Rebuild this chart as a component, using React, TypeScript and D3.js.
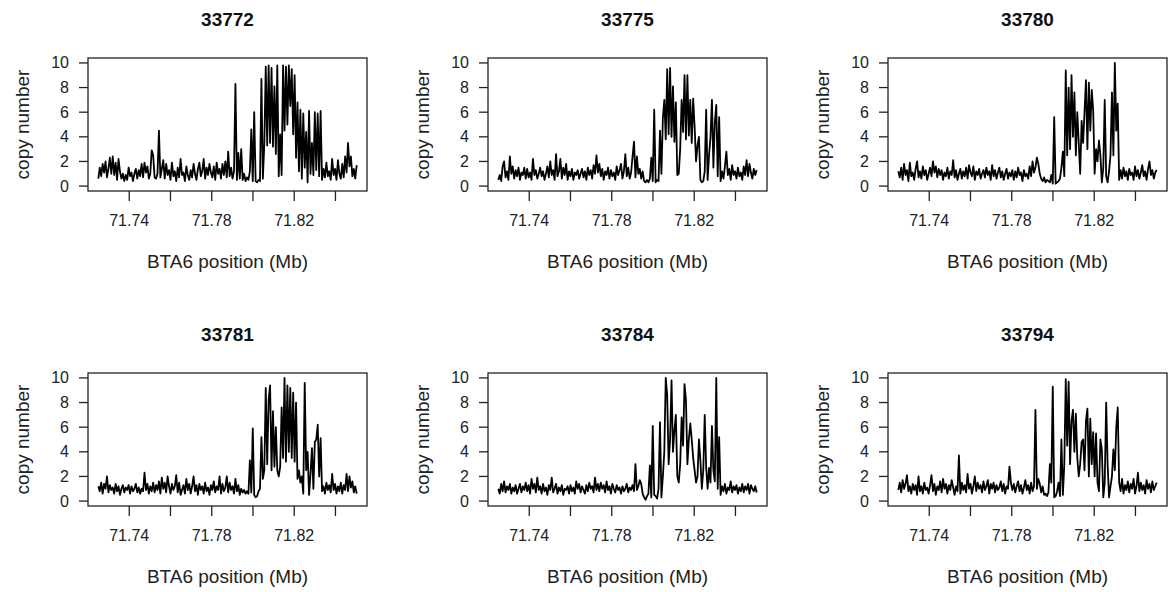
import React, { useEffect, useRef } from 'react';
import * as d3 from 'd3';

// probe positions on BTA6 (Mb), shared by all animals
const positions = [
  71.7250, 71.7257, 71.7264, 71.7271, 71.7278, 71.7285, 71.7292, 71.7299, 71.7306, 71.7313,
  71.7320, 71.7327, 71.7334, 71.7341, 71.7348, 71.7355, 71.7362, 71.7369, 71.7376, 71.7383,
  71.7390, 71.7397, 71.7404, 71.7411, 71.7418, 71.7425, 71.7432, 71.7439, 71.7446, 71.7453,
  71.7460, 71.7467, 71.7474, 71.7481, 71.7488, 71.7495, 71.7502, 71.7509, 71.7516, 71.7523,
  71.7530, 71.7537, 71.7544, 71.7551, 71.7558, 71.7565, 71.7572, 71.7579, 71.7586, 71.7593,
  71.7600, 71.7607, 71.7614, 71.7621, 71.7628, 71.7635, 71.7642, 71.7649, 71.7656, 71.7663,
  71.7670, 71.7677, 71.7684, 71.7691, 71.7698, 71.7705, 71.7712, 71.7719, 71.7726, 71.7733,
  71.7740, 71.7747, 71.7754, 71.7761, 71.7768, 71.7775, 71.7782, 71.7789, 71.7796, 71.7803,
  71.7810, 71.7817, 71.7824, 71.7831, 71.7838, 71.7845, 71.7852, 71.7859, 71.7866, 71.7873,
  71.7880, 71.7887, 71.7894, 71.7901, 71.7908, 71.7915, 71.7922, 71.7929, 71.7936, 71.7943,
  71.7950, 71.7957, 71.7964, 71.7971, 71.7978, 71.7985, 71.7992, 71.7999, 71.8006, 71.8013,
  71.8020, 71.8027, 71.8034, 71.8041, 71.8048, 71.8055, 71.8062, 71.8069, 71.8076, 71.8083,
  71.8090, 71.8097, 71.8104, 71.8111, 71.8118, 71.8125, 71.8132, 71.8139, 71.8146, 71.8153,
  71.8160, 71.8167, 71.8174, 71.8181, 71.8188, 71.8195, 71.8202, 71.8209, 71.8216, 71.8223,
  71.8230, 71.8237, 71.8244, 71.8251, 71.8258, 71.8265, 71.8272, 71.8279, 71.8286, 71.8293,
  71.8300, 71.8307, 71.8314, 71.8321, 71.8328, 71.8335, 71.8342, 71.8349, 71.8356, 71.8363,
  71.8370, 71.8377, 71.8384, 71.8391, 71.8398, 71.8405, 71.8412, 71.8419, 71.8426, 71.8433,
  71.8440, 71.8447, 71.8454, 71.8461, 71.8468, 71.8475, 71.8482, 71.8489, 71.8496, 71.8503,
];

const animals = ['33772', '33775', '33780', '33781', '33784', '33794'];

const cn33772 = [
  0.6, 1.5, 0.8, 1.8, 1.1, 2.0, 0.7, 1.4, 2.3, 1.0,
  2.4, 0.9, 1.9, 0.5, 2.2, 1.2, 0.6, 1.0, 0.4, 0.9,
  0.5, 1.5, 0.8, 1.1, 0.4, 1.0, 1.4, 0.6, 1.3, 0.8,
  1.8, 0.7, 1.9, 1.1, 1.6, 0.6, 1.0, 2.9, 2.5, 0.7,
  0.6, 1.0, 4.5, 0.7, 1.4, 2.1, 0.6, 1.8, 0.9, 1.3,
  0.5, 1.9, 0.8, 1.2, 0.4, 1.5, 0.7, 2.2, 0.9, 1.1,
  0.4, 1.6, 0.9, 0.5, 1.3, 0.7, 1.8, 1.0, 0.5, 1.4,
  1.9, 0.8, 1.2, 2.2, 0.6, 1.5, 0.9, 1.8, 1.1, 0.7,
  1.6, 0.5, 1.9, 1.0, 1.4, 0.6, 1.8, 0.9, 2.0, 0.7,
  2.8, 0.8, 1.5, 0.6, 1.2, 8.3, 0.5, 2.7, 0.6, 3.0,
  0.5, 1.0, 0.4, 0.7, 0.5, 1.2, 4.6, 0.4, 6.0, 0.4,
  0.3, 0.5, 0.4, 8.7, 0.6, 3.4, 9.7, 3.3, 9.8, 3.5,
  9.6, 3.2, 8.1, 2.6, 9.8, 0.8, 4.2, 0.9, 9.8, 4.5,
  9.7, 5.0, 9.8, 6.5, 9.5, 4.2, 9.0, 2.3, 6.8, 1.2,
  6.2, 0.6, 5.9, 1.5, 4.4, 0.3, 6.1, 1.0, 3.5, 0.9,
  6.0, 1.3, 5.9, 0.8, 6.1, 0.5, 1.4, 0.7, 1.9, 0.8,
  1.2, 0.5, 2.2, 0.9, 1.4, 0.5, 2.1, 1.0, 0.6, 1.8,
  0.7, 2.4, 1.1, 3.5, 1.6, 2.4, 0.8, 1.4, 0.6, 1.7,
];

const cn33775 = [
  0.5, 0.9, 0.4, 1.6, 2.0, 0.7, 1.2, 0.5, 2.4, 1.0,
  1.6, 0.6, 1.3, 0.8, 1.5, 0.5, 1.1, 0.9, 1.5, 0.6,
  1.4, 0.7, 1.1, 0.5, 2.2, 0.9, 1.3, 0.6, 1.0, 1.5,
  0.8, 1.2, 0.5, 1.0, 1.6, 0.7, 2.0, 0.9, 1.3, 0.5,
  2.6, 0.8, 1.2, 2.2, 0.6, 1.5, 0.9, 1.8, 0.5, 1.2,
  0.8, 1.4, 0.5, 1.1, 0.9, 1.3, 0.6, 1.0, 1.4, 0.7,
  1.2, 0.5, 1.5, 0.9, 1.3, 0.6, 1.7, 1.0, 2.5, 1.1,
  1.8, 0.8, 1.4, 0.5, 1.2, 0.9, 1.5, 0.6, 1.3, 0.8,
  1.1, 0.5, 1.6, 0.9, 1.3, 1.8, 0.6, 1.2, 2.6, 0.8,
  1.5, 0.6, 1.1, 2.4, 3.6, 0.7, 2.4, 1.0, 1.4, 0.6,
  1.2, 0.4, 0.3, 0.5, 0.3, 0.6, 2.3, 0.4, 6.2, 0.3,
  0.5, 0.4, 4.5, 1.0, 5.5, 7.0, 3.8, 9.5, 4.2, 9.6,
  4.0, 8.1, 3.6, 6.8, 0.9, 1.0, 3.0, 7.0, 4.4, 9.0,
  3.8, 9.0, 4.1, 7.0, 3.5, 7.1, 4.8, 2.0, 3.3, 4.0,
  0.5, 0.3, 0.4, 1.2, 6.2, 0.5, 2.5, 4.0, 7.0, 1.5,
  5.2, 6.6, 0.8, 5.6, 0.4, 1.2, 0.6, 1.6, 2.8, 0.9,
  1.4, 0.5, 1.7, 0.9, 1.2, 0.6, 1.5, 0.8, 1.1, 0.5,
  1.6, 0.9, 2.1, 0.8, 1.8, 1.1, 0.6, 1.4, 0.9, 1.3,
];

const cn33780 = [
  1.2, 0.7, 1.5, 0.5, 1.8, 0.9, 1.3, 0.4, 1.9, 0.8,
  1.1, 0.5, 1.4, 2.0, 0.7, 1.2, 0.6, 1.6, 0.9, 1.3,
  0.5, 1.0, 1.5, 0.8, 2.0, 1.1, 1.6, 0.7, 1.4, 0.9,
  1.3, 0.5, 1.1, 0.8, 1.5, 0.6, 1.2, 0.9, 2.1, 0.7,
  1.3, 0.5, 1.0, 1.4, 0.6, 1.2, 0.8, 1.5, 0.6, 1.7,
  1.1, 0.8, 1.6, 0.5, 1.2, 0.9, 1.4, 0.6, 1.0, 1.3,
  0.7, 1.5, 0.9, 1.2, 0.5, 1.7, 0.8, 1.3, 0.6, 1.1,
  1.5, 0.7, 1.2, 0.5, 1.0, 1.4, 0.6, 1.1, 0.8, 1.3,
  0.5, 1.2, 0.7, 1.5, 0.9, 1.1, 0.4, 1.3, 0.8, 1.0,
  0.6, 1.6, 0.8, 2.0, 1.1, 1.5, 2.3, 1.8, 1.0, 0.6,
  0.4, 0.7, 0.3, 0.5, 0.4, 0.3, 0.9, 0.2, 5.6, 0.2,
  0.3, 0.4, 0.6, 1.5, 2.8, 0.8, 9.4, 2.5, 8.0, 3.0,
  9.0, 4.0, 7.6, 2.5, 6.0, 3.5, 1.0, 5.3, 3.5, 6.0,
  8.6, 3.0, 8.4, 4.5, 7.8, 6.2, 1.0, 3.0, 2.0, 3.7,
  2.5, 0.3, 1.5, 7.0, 0.8, 0.3, 1.2, 2.5, 7.6, 2.5,
  10.0, 4.5, 6.7, 0.5, 1.3, 0.6, 1.5, 0.8, 1.2, 0.5,
  1.4, 0.9, 1.1, 0.5, 1.6, 0.8, 1.3, 0.6, 1.1, 1.7,
  0.8, 1.2, 0.5, 1.4, 2.0, 0.9, 1.3, 0.6, 1.1, 1.3,
];

const cn33781 = [
  1.2, 0.8, 1.5, 0.6, 1.4, 1.0, 2.0, 0.7, 1.3, 0.9,
  1.1, 0.6, 1.4, 0.8, 1.2, 0.5, 1.0, 1.3, 0.7, 1.1,
  0.9, 1.3, 0.6, 1.2, 0.8, 1.0, 1.4, 0.7, 1.1, 0.6,
  1.0, 0.8, 2.3, 0.9, 1.4, 0.6, 1.2, 0.8, 1.5, 0.7,
  1.3, 0.9, 1.6, 0.6, 1.9, 1.0, 1.5, 0.7, 2.0, 1.2,
  0.6, 1.4, 0.9, 1.2, 2.1, 0.7, 1.5, 0.5, 0.9, 1.3,
  0.6, 1.8, 0.9, 1.4, 0.6, 1.2, 2.0, 0.8, 1.3, 0.5,
  1.4, 0.9, 1.2, 0.6, 1.5, 0.8, 1.1, 0.5, 1.3, 0.9,
  1.6, 0.7, 1.2, 0.9, 2.0, 0.6, 1.4, 0.8, 1.1, 2.0,
  0.7, 1.5, 0.9, 1.2, 0.6, 1.8, 0.8, 1.3, 0.5, 1.0,
  0.7, 0.9, 0.6, 0.8, 0.6, 3.3, 0.7, 5.9, 0.5, 0.3,
  0.4, 0.8, 1.0, 5.2, 1.8, 2.5, 9.2, 3.0, 8.2, 9.4,
  2.5, 7.3, 2.8, 6.0, 2.5, 2.0, 2.8, 7.6, 3.5, 10.0,
  3.2, 9.4, 4.0, 9.2, 3.5, 8.8, 3.2, 8.0, 1.8, 2.5,
  1.5, 2.0, 0.6, 9.6, 2.5, 4.0, 0.5, 2.2, 4.3, 1.0,
  4.8, 5.0, 6.2, 2.0, 5.1, 0.8, 1.2, 0.6, 1.5, 0.9,
  1.3, 0.7, 2.2, 0.9, 1.4, 0.6, 1.2, 0.8, 1.5, 0.6,
  1.3, 0.9, 2.2, 0.8, 2.0, 1.1, 1.6, 0.7, 1.2, 0.6,
];

const cn33784 = [
  1.0, 0.6, 1.4, 0.8, 1.6, 0.7, 1.2, 0.9, 1.4, 0.6,
  1.1, 0.8, 1.3, 0.6, 1.0, 1.4, 0.7, 1.2, 0.9, 1.5,
  0.8, 1.3, 0.6, 1.8, 1.0, 1.4, 0.7, 1.9, 0.9, 1.2,
  0.6, 1.4, 0.8, 1.1, 0.5, 1.3, 0.9, 1.9, 0.7, 1.0,
  1.4, 0.6, 1.1, 0.8, 1.3, 0.5, 1.0, 0.9, 1.2, 0.6,
  1.3, 0.8, 1.1, 0.6, 1.6, 1.0, 1.4, 0.7, 1.2, 0.9,
  0.6, 1.3, 0.8, 1.5, 1.0, 1.2, 0.7, 1.9, 0.9, 1.4,
  0.8, 1.5, 1.0, 1.3, 0.7, 1.6, 0.9, 1.2, 0.6, 1.4,
  1.0, 0.7, 1.3, 0.9, 1.1, 0.6, 1.2, 0.8, 1.0, 1.4,
  0.7, 1.1, 0.9, 1.3, 0.8, 3.0, 0.9, 1.2, 1.7, 1.4,
  0.6, 0.3, 0.1, 0.4, 0.6, 2.9, 0.3, 6.1, 0.5, 0.4,
  0.2, 1.0, 6.4, 0.3, 2.0, 4.0, 10.0, 8.6, 3.0, 5.0,
  9.8, 4.0, 5.7, 7.0, 2.0, 1.5, 3.0, 6.8, 4.5, 9.5,
  8.2, 3.0, 5.0, 6.3, 5.0, 3.5, 2.5, 1.5, 2.0, 5.0,
  3.3, 1.0, 2.5, 7.0, 2.7, 1.0, 2.7, 1.5, 6.1, 2.5,
  1.6, 10.0, 1.0, 5.2, 0.5, 1.2, 0.8, 1.4, 0.6, 1.1,
  0.9, 1.6, 0.7, 1.2, 0.9, 1.3, 0.6, 1.1, 0.8, 1.4,
  0.7, 1.2, 0.9, 1.4, 0.6, 1.3, 1.0, 0.8, 1.2, 0.7,
];

const cn33794 = [
  0.9, 1.5, 0.7, 1.7, 1.0, 1.4, 2.1, 0.8, 1.2, 0.6,
  1.4, 0.9, 1.3, 0.5, 2.0, 0.8, 1.2, 0.6, 1.5, 0.9,
  1.1, 0.6, 1.3, 2.1, 0.8, 1.4, 0.5, 1.2, 0.9, 1.6,
  0.7, 1.8, 1.0, 1.4, 0.6, 1.3, 0.9, 1.7, 1.1, 0.5,
  1.2, 0.8, 3.7, 0.6, 1.5, 0.9, 1.3, 0.7, 2.2, 1.0,
  1.4, 0.6, 1.2, 2.0, 0.8, 1.5, 1.0, 1.3, 0.7, 1.6,
  0.9, 1.2, 1.7, 0.6, 1.4, 1.0, 1.5, 0.7, 1.3, 0.9,
  1.1, 1.6, 0.8, 1.4, 0.6, 1.2, 1.0, 2.8, 1.5, 0.9,
  1.4, 0.7, 1.2, 1.6, 0.8, 1.3, 0.6, 1.1, 1.7, 0.9,
  1.3, 0.6, 1.5, 0.8, 1.2, 7.4, 1.0, 1.8, 1.4, 0.7,
  1.2, 0.5, 0.6, 0.4, 0.7, 3.0, 1.5, 9.3, 0.3, 0.4,
  0.8, 1.5, 0.4, 5.0, 0.5, 3.0, 9.9, 4.5, 9.7, 3.0,
  6.5, 7.4, 4.0, 7.1, 3.5, 2.0, 3.0, 4.8, 5.0, 2.5,
  6.5, 7.5, 2.0, 6.7, 3.0, 5.6, 2.0, 5.5, 1.5, 0.8,
  5.0, 4.2, 0.3, 1.5, 8.0, 3.0, 0.3, 1.2, 2.0, 4.2,
  2.5, 6.0, 7.6, 1.5, 0.8, 1.8, 0.6, 1.3, 0.9, 1.6,
  0.7, 1.4, 1.0, 1.8, 0.6, 1.2, 2.3, 0.8, 1.5, 0.9,
  1.3, 0.6, 1.7, 1.0, 1.4, 0.7, 1.6, 0.9, 1.2, 1.5,
];

const series = [cn33772, cn33775, cn33780, cn33781, cn33784, cn33794];

const xTicks = [71.74, 71.76, 71.78, 71.80, 71.82, 71.84];
const xTickLabels = ['71.74', '', '71.78', '', '71.82', ''];
const yTicks = [0, 2, 4, 6, 8, 10];

const App = () => {
  const chartRef = useRef(null);

  useEffect(() => {
    const width = 1170;
    const height = 592;
    const font = '"Liberation Sans", Arial, Helvetica, sans-serif';

    const svg = d3.select(chartRef.current)
      .append('svg')
      .attr('width', width)
      .attr('height', height)
      .style('position', 'absolute')
      .style('left', 0)
      .style('top', 0)
      .style('background', '#fff')
      .style('font-family', font);

    series.forEach((values, k) => {
      const col = k % 3;
      const row = Math.floor(k / 3);
      const x0 = 88 + 400 * col;
      const x1 = x0 + 279;
      const y0 = 58 + 315 * row;
      const y1 = y0 + 133;

      const x = d3.scaleLinear().domain([71.72, 71.8553]).range([x0, x1]);
      const y = d3.scaleLinear().domain([-0.4, 10.4]).range([y1, y0]);

      const g = svg.append('g');

      const line = d3.line()
        .x((d, i) => x(positions[i]))
        .y(d => y(d));

      g.append('path')
        .datum(values)
        .attr('d', line)
        .attr('fill', 'none')
        .attr('stroke', '#000')
        .attr('stroke-width', 1.8)
        .attr('stroke-linejoin', 'round');

      g.append('rect')
        .attr('x', x0)
        .attr('y', y0)
        .attr('width', x1 - x0)
        .attr('height', y1 - y0)
        .attr('fill', 'none')
        .attr('stroke', '#222')
        .attr('stroke-width', 1.3);

      // y axis
      g.selectAll('.ytick')
        .data(yTicks)
        .enter()
        .append('line')
        .attr('x1', x0 - 9)
        .attr('x2', x0)
        .attr('y1', d => y(d))
        .attr('y2', d => y(d))
        .attr('stroke', '#222')
        .attr('stroke-width', 1.3);

      g.selectAll('.ylab')
        .data(yTicks)
        .enter()
        .append('text')
        .attr('x', x0 - 19)
        .attr('y', d => y(d) + 5.5)
        .attr('text-anchor', 'end')
        .attr('font-size', 16)
        .attr('fill', '#222')
        .text(d => d);

      // x axis
      g.selectAll('.xtick')
        .data(xTicks)
        .enter()
        .append('line')
        .attr('x1', d => x(d))
        .attr('x2', d => x(d))
        .attr('y1', y1)
        .attr('y2', y1 + 10)
        .attr('stroke', '#222')
        .attr('stroke-width', 1.3);

      g.selectAll('.xlab')
        .data(xTicks)
        .enter()
        .append('text')
        .attr('x', d => x(d))
        .attr('y', y1 + 35)
        .attr('text-anchor', 'middle')
        .attr('font-size', 16)
        .attr('fill', '#222')
        .text((d, i) => xTickLabels[i]);

      g.append('text')
        .attr('x', (x0 + x1) / 2)
        .attr('y', y1 + 77)
        .attr('text-anchor', 'middle')
        .attr('font-size', 19)
        .attr('fill', '#222')
        .text('BTA6 position (Mb)');

      g.append('text')
        .attr('transform', `translate(${x0 - 59}, ${(y0 + y1) / 2}) rotate(-90)`)
        .attr('text-anchor', 'middle')
        .attr('font-size', 19)
        .attr('fill', '#222')
        .text('copy number');

      g.append('text')
        .attr('x', (x0 + x1) / 2)
        .attr('y', y0 - 32)
        .attr('text-anchor', 'middle')
        .attr('font-size', 19)
        .attr('font-weight', 'bold')
        .attr('fill', '#111')
        .text(animals[k]);
    });

    return () => {
      d3.select(chartRef.current)
        .selectAll('svg')
        .remove();
    };
  }, []);

  return <div ref={chartRef} />;
};

export default App;
